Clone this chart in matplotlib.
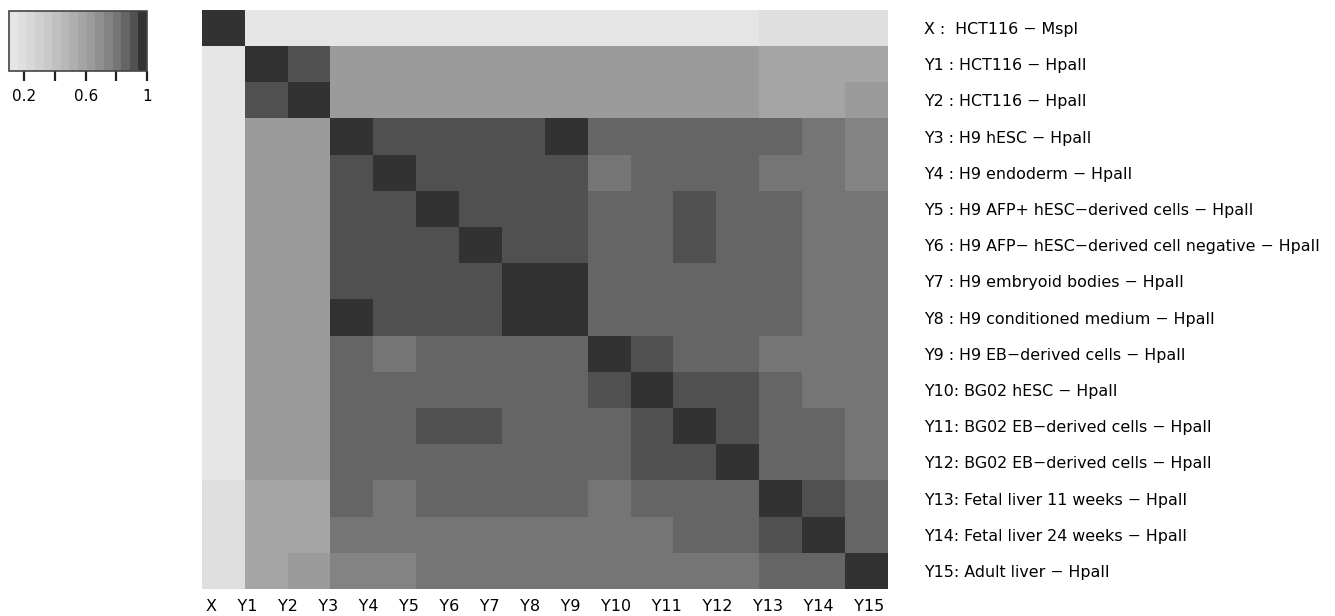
import numpy as np
import matplotlib
matplotlib.use("Agg")
import matplotlib.pyplot as plt
from matplotlib.colors import ListedColormap, BoundaryNorm
from matplotlib.ticker import NullLocator

plt.rcParams['font.family'] = ['DejaVu Sans']

# sample names (rows/cols share the same order)
col_labels = ["X", "Y1", "Y2", "Y3", "Y4", "Y5", "Y6", "Y7", "Y8", "Y9",
              "Y10", "Y11", "Y12", "Y13", "Y14", "Y15"]
row_labels = [
    "X :  HCT116 \u2212 MspI",
    "Y1 : HCT116 \u2212 HpaII",
    "Y2 : HCT116 \u2212 HpaII",
    "Y3 : H9 hESC \u2212 HpaII",
    "Y4 : H9 endoderm \u2212 HpaII",
    "Y5 : H9 AFP+ hESC\u2212derived cells \u2212 HpaII",
    "Y6 : H9 AFP\u2212 hESC\u2212derived cell negative \u2212 HpaII",
    "Y7 : H9 embryoid bodies \u2212 HpaII",
    "Y8 : H9 conditioned medium \u2212 HpaII",
    "Y9 : H9 EB\u2212derived cells \u2212 HpaII",
    "Y10: BG02 hESC \u2212 HpaII",
    "Y11: BG02 EB\u2212derived cells \u2212 HpaII",
    "Y12: BG02 EB\u2212derived cells \u2212 HpaII",
    "Y13: Fetal liver 11 weeks \u2212 HpaII",
    "Y14: Fetal liver 24 weeks \u2212 HpaII",
    "Y15: Adult liver \u2212 HpaII",
]

# pairwise correlation between profiles
corr = np.array([
    [1.00, .12, .12, .12, .12, .12, .12, .12, .12, .12, .12, .12, .12, .18, .18, .18],
    [.12, 1.00, .91, .63, .63, .63, .63, .63, .63, .63, .63, .63, .63, .58, .58, .58],
    [.12, .91, 1.00, .63, .63, .63, .63, .63, .63, .63, .63, .63, .63, .58, .58, .63],
    [.12, .63, .63, 1.00, .91, .91, .91, .91, 1.00, .86, .86, .86, .86, .86, .80, .74],
    [.12, .63, .63, .91, 1.00, .91, .91, .91, .91, .80, .86, .86, .86, .80, .80, .74],
    [.12, .63, .63, .91, .91, 1.00, .91, .91, .91, .86, .86, .91, .86, .86, .80, .80],
    [.12, .63, .63, .91, .91, .91, 1.00, .91, .91, .86, .86, .91, .86, .86, .80, .80],
    [.12, .63, .63, .91, .91, .91, .91, 1.00, 1.00, .86, .86, .86, .86, .86, .80, .80],
    [.12, .63, .63, 1.00, .91, .91, .91, 1.00, 1.00, .86, .86, .86, .86, .86, .80, .80],
    [.12, .63, .63, .86, .80, .86, .86, .86, .86, 1.00, .91, .86, .86, .80, .80, .80],
    [.12, .63, .63, .86, .86, .86, .86, .86, .86, .91, 1.00, .91, .91, .86, .80, .80],
    [.12, .63, .63, .86, .86, .91, .91, .86, .86, .86, .91, 1.00, .91, .86, .86, .80],
    [.12, .63, .63, .86, .86, .86, .86, .86, .86, .86, .91, .91, 1.00, .86, .86, .80],
    [.18, .58, .58, .86, .80, .86, .86, .86, .86, .80, .86, .86, .86, 1.00, .91, .86],
    [.18, .58, .58, .80, .80, .80, .80, .80, .80, .80, .80, .86, .86, .91, 1.00, .86],
    [.18, .58, .63, .74, .74, .80, .80, .80, .80, .80, .80, .80, .80, .86, .86, 1.00],
])

cbar_ticks = [0.2, 0.4, 0.6, 0.8, 1.0]
cbar_ticklabels = ["0.2", "", "0.6", "", "1"]

# 16 grey bands, gamma-corrected, light -> dark
n_bands = 16
greys = np.linspace(0.9 ** 2.2, 0.2 ** 2.2, n_bands) ** (1 / 2.2)
cmap = ListedColormap([(g, g, g) for g in greys])
norm = BoundaryNorm(np.linspace(0.1, 1.0, n_bands + 1), cmap.N)

W, H = 1335, 616
fig = plt.figure(figsize=(W / 100, H / 100), dpi=100)

ax = fig.add_axes([202 / W, 1 - 589 / H, 686 / W, 579 / H])
im = ax.imshow(corr, cmap=cmap, norm=norm, aspect='auto', interpolation='nearest')
for s in ax.spines.values():
    s.set_visible(False)
ax.set_xticks([])
ax.yaxis.tick_right()
ax.set_yticks(range(len(row_labels)))
ax.set_yticklabels(row_labels, fontsize=11.4)
ax.tick_params(axis='y', length=0, pad=26)

# column names written as one spaced line under the matrix
ax.text(0.5, -0.031, "    ".join(col_labels), transform=ax.transAxes,
        ha='center', va='center', fontsize=11.5)

cax = fig.add_axes([9 / W, 1 - 71 / H, 138 / W, 60 / H])
cb = fig.colorbar(im, cax=cax, orientation='horizontal', ticks=cbar_ticks)
cb.ax.xaxis.set_minor_locator(NullLocator())
cb.ax.set_xticklabels(cbar_ticklabels)
cb.ax.tick_params(axis='x', which='major', direction='out', length=7,
                  width=1.6, color='#222222', labelsize=11, pad=6)
cb.outline.set_edgecolor('#444444')
cb.outline.set_linewidth(1.2)

fig.savefig("out.png", dpi=100)
